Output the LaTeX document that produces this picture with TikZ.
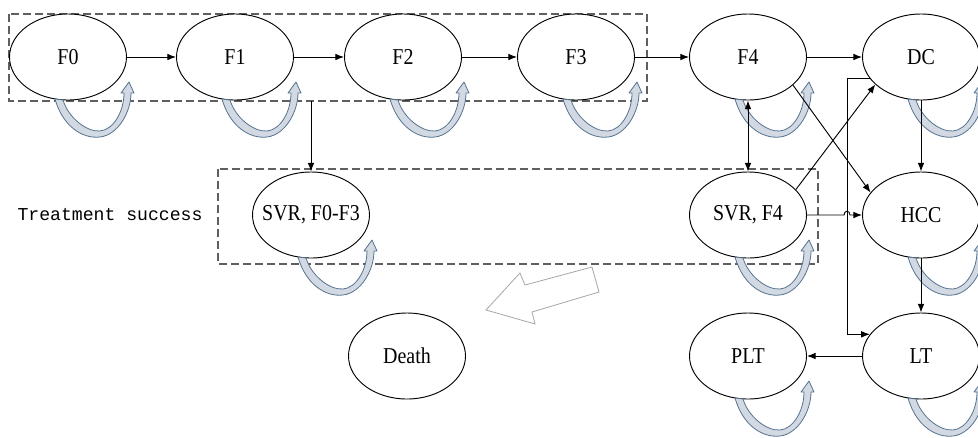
\documentclass[tikz,border=0pt]{standalone}
\usepackage{fontspec}
\setmainfont{Liberation Serif}
\newfontfamily\labelfnt[FakeStretch=0.88]{Liberation Serif}
\newfontfamily\monofnt{Liberation Mono}
\usetikzlibrary{shapes.geometric,arrows.meta,calc}
\definecolor{loopfill}{RGB}{210,217,226}
\definecolor{loopline}{RGB}{85,115,145}
\definecolor{boxline}{RGB}{95,95,95}
\newcommand\lbl[1]{\makebox[0pt]{#1}}
\tikzset{
  state/.style={ellipse,draw=black,line width=0.7pt,fill=white,minimum width=87.75pt,minimum height=64.5pt,inner sep=0pt,font=\labelfnt\fontsize{17}{19}\selectfont},
  conn/.style={line width=0.7pt,-{Latex[length=6.5pt,width=5pt]}},
  dconn/.style={line width=0.7pt,{Latex[length=6.5pt,width=5pt]}-{Latex[length=6.5pt,width=5pt]}},
  groupbox/.style={draw=boxline,line width=0.8pt,dash pattern=on 6pt off 3pt},
  loopband/.style={fill=loopfill,draw=loopline,line width=0.6pt,line join=round},
  bigarrow/.style={draw=black!35,fill=white,line width=0.6pt,line join=miter}
}
\newcommand\selfloop[1]{%
  \draw[loopband,shift={(#1.center)}] (-13,42) .. controls (-5,70) and (15,82) .. (32,80)
    .. controls (50,78) and (63,55) .. (63,36) -- (66,36) -- (61,25) -- (53,36) -- (56,36)
    .. controls (56,55) and (45,73) .. (32,74) .. controls (18,75) and (0,60) .. (-5,43) -- cycle;}
\begin{document}
\begin{tikzpicture}[x=0.75pt,y=-0.75pt]
\useasboundingbox (0,0) rectangle (978,437);
\clip (0,0) rectangle (978,437);
% group boxes
\draw[groupbox] (9,14) rectangle (647,101);
\draw[groupbox] (218,169) rectangle (818,264);
% states
\node[state] (F0) at (68,57) {\lbl{F0}};
\node[state] (F1) at (235,57) {\lbl{F1}};
\node[state] (F2) at (403,57) {\lbl{F2}};
\node[state] (F3) at (576,57) {\lbl{F3}};
\node[state] (F4) at (748,57) {\lbl{F4}};
\node[state] (DC) at (921,57) {\lbl{DC}};
\node[state] (S03) at (311,215) {\lbl{SVR, F0-F3}};
\node[state] (S4) at (748,215) {\lbl{SVR, F4}};
\node[state] (HCC) at (921,215) {\lbl{HCC}};
\node[state] (Death) at (407,356) {\lbl{Death}};
\node[state] (PLT) at (748,356) {\lbl{PLT}};
\node[state] (LT) at (921,356) {\lbl{LT}};
\node[font=\monofnt\fontsize{13.6}{15}\selectfont] (ts) at (110,215) {Treatment success};
% self loops
\selfloop{F0}\selfloop{F1}\selfloop{F2}\selfloop{F3}\selfloop{F4}\selfloop{DC}
\selfloop{S03}\selfloop{S4}\selfloop{HCC}\selfloop{LT}\selfloop{PLT}
% coordinates
\coordinate (b1) at (311,101);
\coordinate (vx) at (847,0);
% connectors
\draw[conn] (F0.east) -- (F1.west);
\draw[conn] (F1.east) -- (F2.west);
\draw[conn] (F2.east) -- (F3.west);
\draw[conn] (F3.east) -- (F4.west);
\draw[conn] (F4.east) -- (DC.west);
\draw[conn] (b1) -- (S03.north);
\draw[dconn] (F4.south) -- (S4.north);
\draw[conn] (S4.28) -- (DC.211);
\draw[conn] (F4.-32) -- (HCC.156);
\draw[conn] (DC.203) -- (DC.203 -| vx) -- (vx |- LT.157) -- (LT.157);
\draw[conn] (S4.east) -- ($(vx |- S4.east)+(-3,0)$) .. controls ($(vx |- S4.east)+(-3,-5)$) and ($(vx |- S4.east)+(3,-5)$) .. ($(vx |- S4.east)+(3,0)$) -- (HCC.west);
\draw[conn] (DC.south) -- (HCC.north);
\draw[conn] (HCC.south) -- (LT.north);
\draw[conn] (LT.west) -- (PLT.east);
% large hollow arrow toward Death
\draw[bigarrow] (592,267) -- (525,285) -- (520,273) -- (486,310) -- (535,324) -- (532,312) -- (599,292) -- cycle;
\end{tikzpicture}
\end{document}
